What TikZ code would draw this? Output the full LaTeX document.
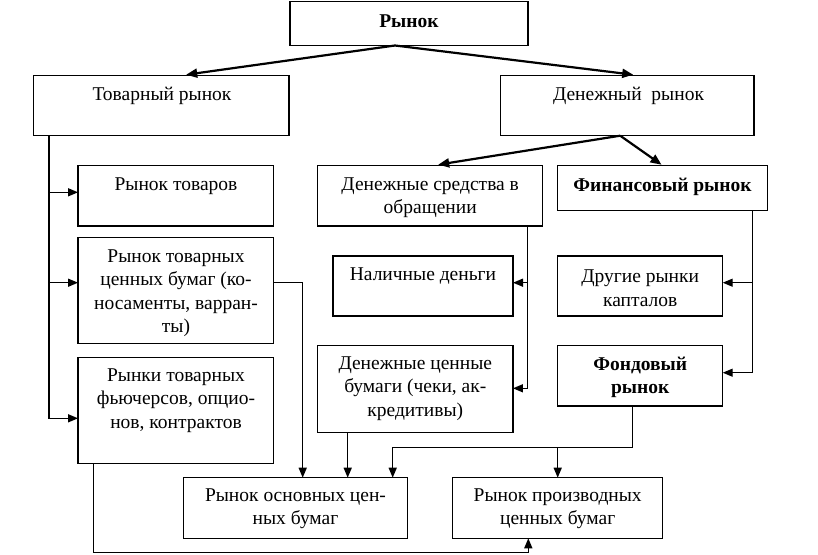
\documentclass[tikz,border=0pt]{standalone}
\usepackage{fontspec}
\setmainfont{Liberation Serif}
\usetikzlibrary{arrows.meta,calc}
\begin{document}
\begin{tikzpicture}[x=1pt,y=-1pt,
  box/.style={draw, line width=1.2pt, inner sep=0pt, outer sep=0pt},
  txt/.style={align=center, inner sep=0pt, font=\fontsize{19.5}{23.5}\selectfont},
  btxt/.style={txt, font=\fontsize{19.5}{23.5}\selectfont\bfseries},
  arr/.style={line width=1.4pt, -{Triangle[length=10pt,width=8pt]}},
  ln/.style={line width=1.4pt},
  bigarr/.style={line width=2.2pt, -{Triangle[length=11pt,width=9pt]}}]
\useasboundingbox (0,0) rectangle (818,554);
% boxes
\node[box, minimum width=238pt, minimum height=44pt] (rynok) at (409,23.5) {};
\node[box, minimum width=255.5pt, minimum height=60pt] (tov) at (161.2,105.7) {};
\node[box, minimum width=253.5pt, minimum height=60pt] (den) at (627.2,105.7) {};
\node[box, minimum width=195.3pt, minimum height=60.3pt] (rt) at (175.7,195.8) {};
\node[box, minimum width=195.3pt, minimum height=105.6pt] (rtcb) at (175.7,290.5) {};
\node[box, minimum width=195.3pt, minimum height=105.6pt] (rtf) at (175.7,410.5) {};
\node[box, minimum width=225pt, minimum height=60.3pt] (ds) at (430.2,195.8) {};
\node[box, minimum width=209.6pt, minimum height=45pt] (fin) at (662.5,188.2) {};
\node[box, minimum width=180pt, minimum height=60pt] (nal) at (423,286) {};
\node[box, minimum width=165pt, minimum height=60pt] (dr) at (640.2,286) {};
\node[box, minimum width=195.3pt, minimum height=87pt] (dcb) at (415.3,389.2) {};
\node[box, minimum width=165pt, minimum height=60.3pt] (fond) at (640.2,375.8) {};
\node[box, minimum width=224.4pt, minimum height=60.6pt] (osn) at (295.5,508) {};
\node[box, minimum width=210pt, minimum height=60.6pt] (pro) at (557.7,508) {};
% texts
\node[btxt] (t-rynok) at (409,21) {Рынок};
\node[txt] (t-tov) at (162,96) {Товарный рынок};
\node[txt] (t-den) at (628.5,96) {Денежный~~рынок};
\node[txt] (t-rt) at (176,186) {Рынок товаров};
\node[txt] (t-rtcb) at (176,293) {Рынок товарных\\ценных бумаг (ко-\\носаменты, варран-\\ты)};
\node[txt] (t-rtf) at (176,400.5) {Рынки товарных\\фьючерсов, опцио-\\нов, контрактов};
\node[txt] (t-ds) at (430.2,197.5) {Денежные средства в\\обращении};
\node[btxt] (t-fin) at (662.5,187) {Финансовый рынок};
\node[txt] (t-nal) at (423,276) {Наличные деньги};
\node[txt] (t-dr) at (640.2,288) {Другие рынки\\капталов};
\node[txt] (t-dcb) at (415.3,388.5) {Денежные ценные\\бумаги (чеки, ак-\\кредитивы)};
\node[btxt] (t-fond) at (640.2,377.5) {Фондовый\\рынок};
\node[txt] (t-osn) at (295.5,508.5) {Рынок основных цен-\\ных бумаг};
\node[txt] (t-pro) at (557.7,508.5) {Рынок производных\\ценных бумаг};
% connectors
\draw[bigarr] ($(rynok.south)+(-14,0)$) -- ($(tov.north)+(25,-1)$);
\draw[bigarr] ($(rynok.south)+(-14,0)$) -- ($(den.north)+(6,-1)$);
\draw[bigarr] ($(den.south)+(-7,0)$) -- ($(ds.north)+(8,-1)$);
\draw[bigarr] ($(den.south)+(-7,0)$) -- ($(fin.north)+(-1,-1)$);
% left bus
\coordinate (lb) at ($(tov.south west)+(15.5,0)$);
\draw[arr] (lb) |- ($(rt.west)+(0,-3.5)$);
\draw[arr] (lb) |- ($(rtcb.west)+(0,-7.8)$);
\draw[arr] (lb) |- ($(rtf.west)+(0,7.8)$);
% commodity securities to basic
\draw[arr] ($(rtcb.east)+(0,-7.8)$) -| ($(osn.north)+(7.2,0)$);
% money in circulation bus
\coordinate (dsb) at ($(ds.south)+(97.5,0)$);
\draw[arr] (dsb) |- ($(nal.east)+(0,-3.3)$);
\draw[arr] (dsb) |- ($(dcb.east)+(0,-0.9)$);
% financial market bus
\coordinate (fb) at ($(fin.south)+(89.8,0)$);
\draw[arr] (fb) |- ($(dr.east)+(0,-3.3)$);
\draw[arr] (fb) |- ($(fond.east)+(0,-3.1)$);
% money securities to basic
\coordinate (dcbb) at ($(dcb.south)+(-67.6,0)$);
\draw[arr] (dcbb) -- (dcbb |- osn.north);
% stock market to both
\coordinate (fs) at ($(fond.south)+(-7.5,0)$);
\coordinate (fj) at ($(fs)+(0,41.7)$);
\draw[ln] (fs) -- (fj);
\draw[arr] (fj) -| ($(osn.north)+(97.2,0)$);
\draw[arr] (fj -| pro.north) -- (pro.north);
% futures to derivatives
\coordinate (fb2) at ($(rtf.south)+(-82.4,0)$);
\coordinate (bot) at (0,552.7);
\draw[arr] (fb2) -- (fb2 |- bot) -| ($(pro.south)+(-29.4,0)$);
\end{tikzpicture}
\end{document}
